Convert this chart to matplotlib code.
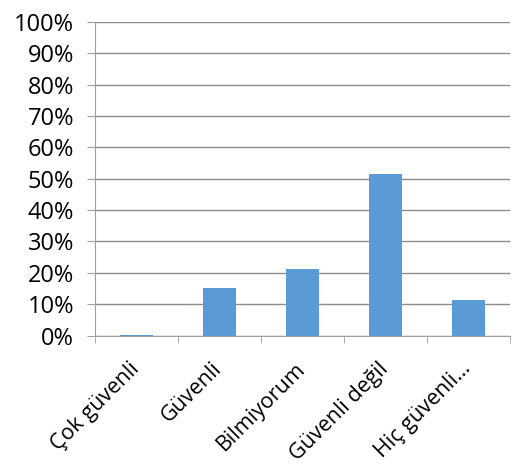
import matplotlib
matplotlib.use("Agg")
import matplotlib.pyplot as plt
import matplotlib.transforms as mtransforms
from matplotlib.ticker import FixedLocator, PercentFormatter
import numpy as np

categories = ["Çok güvenli", "Güvenli", "Bilmiyorum", "Güvenli değil", "Hiç güvenli…"]
values = [0.3, 15.3, 21.1, 51.4, 11.3]
yticks = list(range(0, 101, 10))

plt.rcParams['font.family'] = ['Open Sans', 'DejaVu Sans']

fig = plt.figure(figsize=(5.11, 4.68), dpi=100)
ax = fig.add_axes([0.186, 0.283, 0.812, 0.670])

x = np.arange(len(categories))
ax.bar(x, values, width=0.39, color="#5B9BD5", zorder=3)

ax.set_xlim(-0.5, len(categories) - 0.5)
ax.set_ylim(0, 100)
ax.set_yticks(yticks)
ax.yaxis.set_major_formatter(PercentFormatter(decimals=0))
ax.grid(axis="y", color="#8c8c8c", linewidth=1, zorder=0)

ax.set_xticks(x)
ax.set_xticklabels(categories, rotation=45, ha="right", rotation_mode="anchor")
ax.tick_params(axis="x", length=0, labelsize=15.5, pad=10)
# nudge the rotated labels down-left a little
shift = mtransforms.ScaledTranslation(-0.08, -0.09, fig.dpi_scale_trans)
for lbl in ax.get_xticklabels():
    lbl.set_transform(lbl.get_transform() + shift)
ax.xaxis.set_minor_locator(FixedLocator(np.arange(-0.5, len(categories) - 0.4, 1)))
ax.tick_params(axis="x", which="minor", length=5, color="#a0a0a0", direction="out")
ax.tick_params(axis="y", length=6, color="#a0a0a0", labelsize=17, pad=9)

for side in ["top", "right"]:
    ax.spines[side].set_visible(False)
for side in ["left", "bottom"]:
    ax.spines[side].set_color("#a0a0a0")

plt.savefig("out.png", dpi=100)
